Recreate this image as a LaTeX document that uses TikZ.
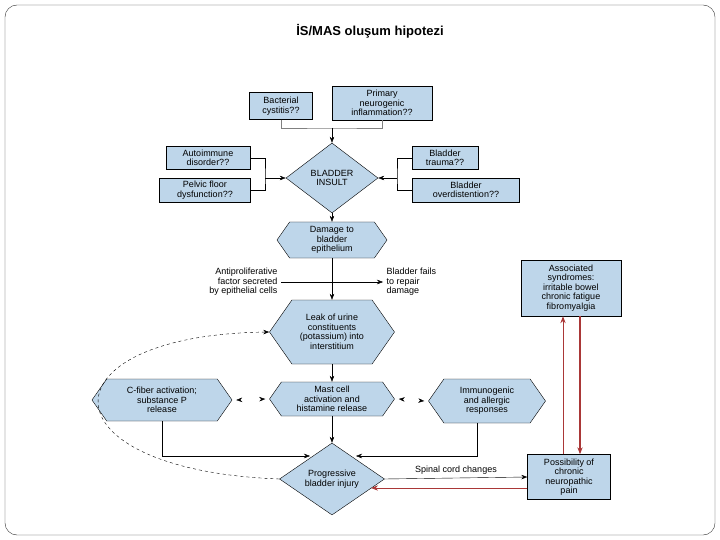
\documentclass[tikz,border=0pt]{standalone}
\usepackage{fontspec}
\setmainfont{Liberation Sans}
\usetikzlibrary{shapes.geometric,shapes.symbols,arrows.meta}
\definecolor{boxblue}{RGB}{190,214,234}
\definecolor{linkred}{RGB}{170,55,55}
\tikzset{
  box/.style={draw=black,fill=boxblue,align=center,font=\fontsize{9}{9.5}\selectfont,inner sep=1pt},
  hexa/.style={box,signal,signal to=west and east,signal pointer angle=110},
  dia/.style={box,diamond,aspect=1.4,inner sep=0pt},
  txt/.style={font=\fontsize{9}{9.5}\selectfont},
  arr/.style={-{Stealth[length=6pt]}},
  redarr/.style={-{Stealth[length=7pt]},color=linkred,line width=1pt}
}
\begin{document}
\begin{tikzpicture}[x=1pt,y=-1pt]
\useasboundingbox (0,0) rectangle (720,540);
\draw[rounded corners=12pt,draw=black!80] (5,5) rectangle (715,535);
\node[font=\bfseries\fontsize{13}{14}\selectfont] (title) at (370,31) {İS/MAS oluşum hipotezi};

\node[box,minimum width=63pt,minimum height=27pt] (bact) at (281,106) {Bacterial\\cystitis??};
\node[box,minimum width=100pt,minimum height=34pt] (neuro) at (382,103) {Primary\\neurogenic\\inflammation??};
\node[box,minimum width=84pt,minimum height=23pt] (auto) at (208,158) {Autoimmune\\disorder??};
\node[box,minimum width=91pt,minimum height=24pt] (pelvic) at (205,190) {Pelvic floor\\dysfunction??};
\node[box,minimum width=66pt,minimum height=23pt] (trauma) at (445,158) {Bladder\\trauma??};
\node[box,minimum width=107pt,minimum height=24pt] (overd) at (466,190) {Bladder\\overdistention??};
\node[dia,minimum width=92pt,minimum height=70pt] (insult) at (332,178) {BLADDER\\INSULT};
\coordinate (top) at (332,128);
\coordinate (lj) at (265,178);
\coordinate (rj) at (397,178);

\draw[gray] (bact.south) |- (top) -| (neuro.south);
\draw[arr] (top) -- (insult.north);
\draw (auto.east) -| (lj) |- (pelvic.east);
\draw[arr] (lj) -- (insult.west);
\draw (trauma.west) -| (rj) |- (overd.west);
\draw[arr] (rj) -- (insult.east);

\node[hexa,minimum width=110pt,minimum height=36pt] (damage) at (332,240) {Damage to\\bladder\\epithelium};
\draw[arr] (insult.south) -- (damage.north);

\node[txt,align=right,anchor=east] (anti) at (281,282) {Antiproliferative\\factor secreted\\by epithelial cells};
\node[txt,align=left,anchor=west] (fails) at (383,282) {Bladder fails\\to repair\\damage};
\draw[arr] (anti.east) -- (fails.west);

\node[hexa,minimum width=125pt,minimum height=64pt] (leak) at (332,332) {Leak of urine\\constituents\\(potassium) into\\interstitium};
\draw[arr] (damage.south) -- (leak.north);

\node[hexa,minimum width=125pt,minimum height=34pt] (mast) at (332,399) {Mast cell\\activation and\\histamine release};
\node[hexa,minimum width=140pt,minimum height=42pt] (cfiber) at (162,400) {C-fiber activation;\\substance P\\release};
\node[hexa,minimum width=117pt,minimum height=44pt] (immuno) at (487,401) {Immunogenic\\and allergic\\responses};
\draw[arr] (leak.south) -- (mast.north);
\draw[{Stealth[length=6pt]}-{Stealth[length=6pt]},dash pattern=on 0pt off 20pt] (cfiber.east) ++(4,0) -- ([xshift=-4pt]mast.west);
\draw[{Stealth[length=6pt]}-{Stealth[length=6pt]},dash pattern=on 0pt off 20pt] (mast.east) ++(4,0) -- ([xshift=-4pt]immuno.west);

\node[dia,minimum width=105pt,minimum height=72pt] (prog) at (332,479) {Progressive\\bladder injury};
\draw[arr] (mast.south) -- (prog.north);
\draw[arr] (cfiber.south) |- (310,456);
\draw[arr] (immuno.south) ++(-10,0) |- (356,456);

\draw[arr,dashed] (prog.west) .. controls (40,470) and (40,335) .. (leak.west);

\node[box,minimum width=83pt,minimum height=45pt] (poss) at (569,477) {Possibility of\\chronic\\neuropathic\\pain};
\node[box,minimum width=100pt,minimum height=56pt] (assoc) at (571,288) {Associated\\syndromes:\\irritable bowel\\chronic fatigue\\fibromyalgia};
\coordinate (back) at (371,488);
\draw[arr] (prog.east) -- node[txt,above] {Spinal cord changes} (poss.west);
\draw[redarr] ([yshift=-11pt]poss.west) -- (back);
\draw[redarr] ([xshift=-6pt]poss.north) -- ([xshift=-8pt]assoc.south);
\draw[redarr,line width=1.5pt] ([xshift=9pt]assoc.south) -- ([xshift=11pt]poss.north);
\end{tikzpicture}
\end{document}
